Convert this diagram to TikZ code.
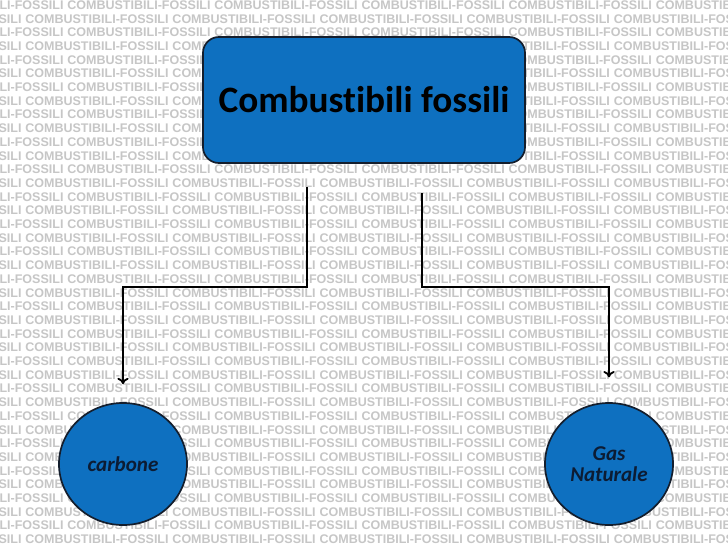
\documentclass[tikz,border=0pt]{standalone}
\usepackage{fontspec}
\setmainfont{Carlito}[Ligatures=NoCommon]
\newfontfamily\bgfont{Liberation Sans}
\usetikzlibrary{shapes.geometric,arrows.meta}

\definecolor{boxblue}{RGB}{14,112,192}
\definecolor{edgedark}{RGB}{20,30,45}
\definecolor{textnavy}{RGB}{12,28,52}
\definecolor{patterngray}{RGB}{198,198,198}

% una riga del motivo di sfondo
\newcommand{\bgword}{\makebox[104.6pt][l]{COMBUSTIBILI-FOSSILI}}
\newcommand{\bgrow}{\bgword\bgword\bgword\bgword\bgword\bgword\bgword}

\begin{document}
\begin{tikzpicture}[x=0.025cm,y=-0.025cm,
  titlebox/.style={draw=edgedark, line width=1.2pt, fill=boxblue, rounded corners=0.4cm,
    minimum width=8.05cm, minimum height=3.15cm, text=black,
    font=\fontsize{26.5}{30}\selectfont\bfseries},
  bubble/.style={ellipse, draw=edgedark, line width=1.2pt, fill=boxblue,
    minimum width=3.2cm, minimum height=3.05cm, inner sep=0pt, align=center,
    text=textnavy, font=\fontsize{15}{15}\selectfont\bfseries\itshape},
  conn/.style={line width=1.3pt, -{To[length=4.5pt,width=8pt]}},
  bgtext/.style={anchor=west, inner sep=0pt, text=patterngray,
    font=\bgfont\fontsize{8.9}{10}\selectfont\bfseries}]

\useasboundingbox (0,0) rectangle (728,546);

% Motivo di sfondo
\begin{scope}
\clip (0,0) rectangle (728,546);
\fill[white] (0,0) rectangle (728,546);
\foreach \r in {0,...,39}{
  \pgfmathsetmacro{\xs}{mod(\r,2)==0 ? -80 : -122}
  \node[bgtext] (bg\r) at (\xs,5+13.7*\r) {\bgrow};
}
\end{scope}

% Nodi
\node[titlebox] (fossili) at (364,100) {Combustibili fossili};
\node[bubble] (carbone) at (123,464) {carbone};
\node[bubble] (gas) at (609,464) {Gas\\Naturale};

% Collegamenti
\coordinate (lstart) at (307,187);
\coordinate (rstart) at (422,193);
\coordinate (split) at (0,287);
\draw[conn, shorten >=0.45cm] (lstart) -- (lstart |- split) -| (carbone.north);
\draw[conn, shorten >=0.62cm] (rstart) -- (rstart |- split) -| (gas.north);

\end{tikzpicture}
\end{document}
